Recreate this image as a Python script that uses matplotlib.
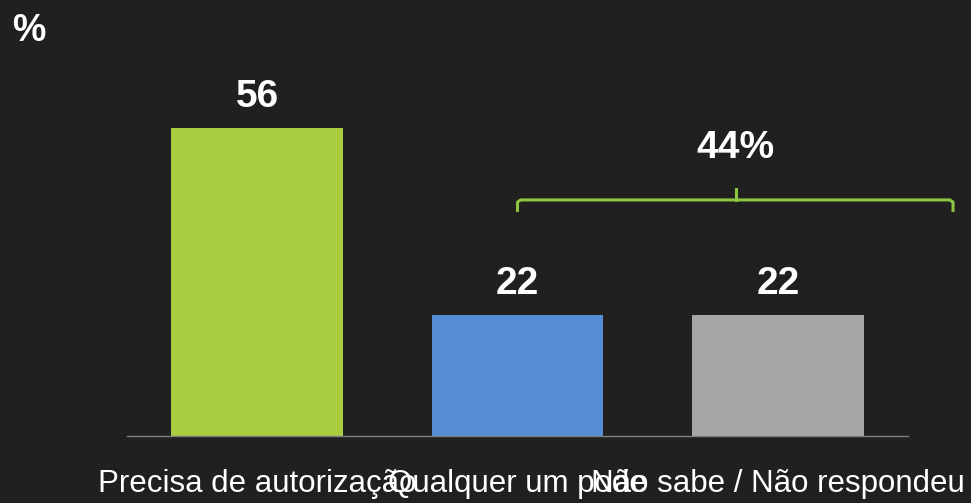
import matplotlib.pyplot as plt

categorias = ['Precisa de autorização', 'Qualquer um pode', 'Não sabe / Não respondeu']
valores = [56, 22, 22]
cores = ['#a9cd3f', '#558ed5', '#a6a6a6']
total_chave = '44%'

fundo = '#202020'
plt.rcParams['font.family'] = ['Liberation Sans', 'DejaVu Sans']

fig = plt.figure(figsize=(9.71, 5.03), dpi=100, facecolor=fundo)
ax = fig.add_axes([127/971, 67/503, 781/971, 416/503])
ax.set_facecolor(fundo)

x = range(len(categorias))
barras = ax.bar(x, valores, width=0.66, color=cores)
ax.set_xlim(-0.5, 2.5)
ax.set_ylim(0, 75.6)

for b, v in zip(barras, valores):
    ax.annotate(str(v), (b.get_x() + b.get_width()/2, v), xytext=(0, 15),
                textcoords='offset points', ha='center', va='baseline',
                color='white', fontsize=28, fontweight='bold')

# rótulos das categorias
for i, c in enumerate(categorias):
    ax.annotate(c, (i, 0), xytext=(0, -40), textcoords='offset points',
                ha='center', va='baseline', color='white', fontsize=22.5,
                annotation_clip=False)

# chave sobre as duas últimas barras
verde = '#8dc63f'
x0, x1, xc = 1.0, 2.673, 1.838
ax.plot([x0, x0, x0 + 0.012, x1 - 0.012, x1, x1],
        [41.0, 42.5, 42.9, 42.9, 42.5, 41.0], color=verde, lw=2.2,
        solid_joinstyle='round', clip_on=False)
ax.plot([xc, xc], [42.9, 44.9], color=verde, lw=2.2, clip_on=False)
ax.text(xc, 50.6, total_chave, ha='center', va='baseline', color='white',
        fontsize=28, fontweight='bold')

ax.set_xticks([])
ax.set_yticks([])
for s in ['top', 'right', 'left']:
    ax.spines[s].set_visible(False)
ax.spines['bottom'].set_color('#7f7f7f')
ax.spines['bottom'].set_linewidth(1)

fig.text(12/971, 1 - 41/503, '%', color='white', fontsize=27,
         fontweight='bold', va='baseline', ha='left')

fig.savefig('out.png', dpi=100, facecolor=fundo)
